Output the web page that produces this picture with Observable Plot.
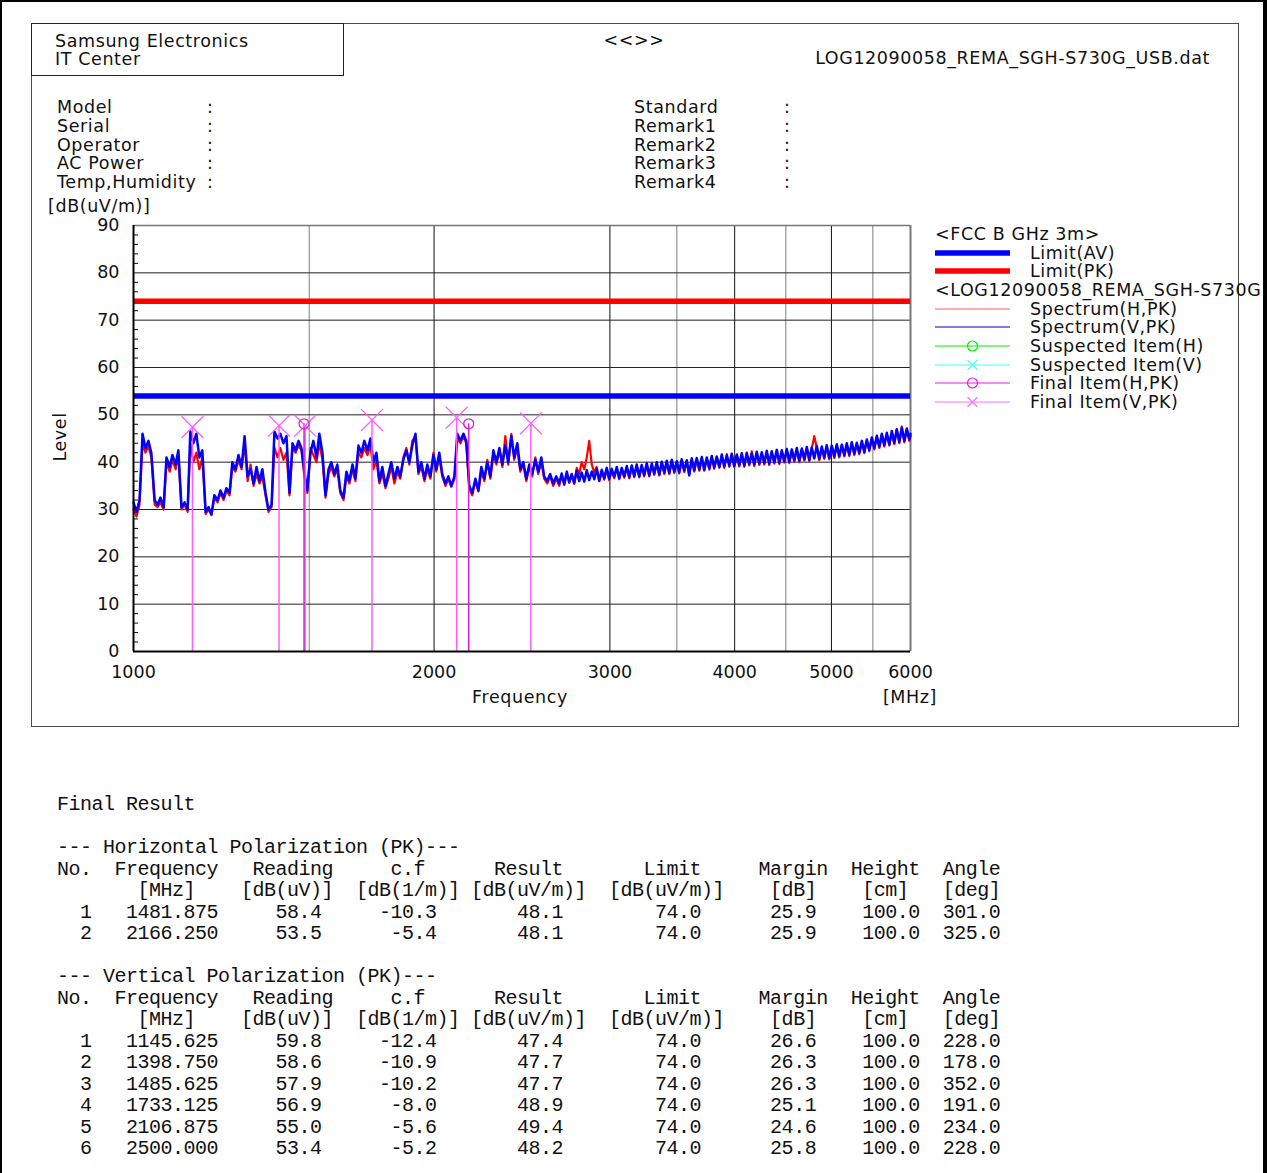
<!DOCTYPE html>
<html>
<head>
<meta charset="utf-8">
<script src="https://cdn.jsdelivr.net/npm/d3@7"></script>
<script src="https://cdn.jsdelivr.net/npm/@observablehq/plot@0.6"></script>
<style>
  html,body{margin:0;padding:0;background:#fff;}
  #page{position:relative;width:1270px;height:1173px;overflow:hidden;background:#fff;
        font-family:"DejaVu Sans",sans-serif;font-size:17.5px;color:#111;}
  .t{position:absolute;white-space:nowrap;line-height:20px;height:20px;letter-spacing:0.6px;}
  #chart{position:absolute;left:0;top:0;}
  #tbl{position:absolute;left:57px;top:794px;margin:0;font-family:"Liberation Mono",monospace;
       font-size:20px;letter-spacing:-0.5px;line-height:21.5px;color:#111;}
  .box{position:absolute;box-sizing:border-box;}
  .sw{position:absolute;}
</style>
</head>
<body>
<div id="page">
  <div id="chart"></div>
  <div class="box" style="left:31px;top:23px;width:1208px;height:704px;border:1px solid #4a4a4a;"></div>
  <div class="box" style="left:31px;top:23px;width:313px;height:53px;border:1px solid #222;"></div>
  <pre id="tbl"></pre>
  <div class="box" style="left:0;top:0;width:1267px;height:1200px;border-left:2px solid #000;border-top:2px solid #000;border-right:4px solid #000;z-index:5;"></div>
</div>
<script>
// ---------------- DATA ----------------
const fileName = "LOG12090058_REMA_SGH-S730G_USB.dat";
const infoLeft = ["Model", "Serial", "Operator", "AC Power", "Temp,Humidity"];
const infoRight = ["Standard", "Remark1", "Remark2", "Remark3", "Remark4"];

const yMajor = [0, 10, 20, 30, 40, 50, 60, 70, 80, 90];
const yMinor = [2,4,6,8,12,14,16,18,22,24,26,28,32,34,36,38,42,44,46,48,52,54,56,58,62,64,66,68,72,74,76,78,82,84,86,88];
const xTicks = [1000, 2000, 3000, 4000, 5000, 6000];
const xGridMajor = [2000, 3000, 4000, 5000];
const xGridMinor = [1500, 3500, 4500, 5500];
const limitAV = 54;
const limitPK = 74;

// Spectrum sample frequencies [MHz]
const specF = [1000,1007,1014,1021,1028,1035,1042,1050,1057,1064,
1072,1079,1087,1094,1102,1109,1117,1125,1133,1140,
1148,1156,1164,1172,1181,1189,1197,1205,1214,1222,
1231,1239,1248,1256,1265,1274,1283,1292,1301,1310,
1319,1328,1337,1346,1356,1365,1375,1384,1394,1403,
1413,1423,1433,1443,1453,1463,1473,1483,1493,1504,
1514,1525,1535,1546,1557,1568,1578,1589,1600,1611,
1623,1634,1645,1657,1668,1680,1691,1703,1715,1727,
1739,1751,1763,1775,1788,1800,1812,1825,1838,1850,
1863,1876,1889,1902,1916,1929,1942,1956,1969,1983,
1997,2010,2024,2038,2053,2067,2081,2096,2110,2125,
2140,2154,2169,2184,2200,2215,2230,2246,2261,2277,
2293,2309,2325,2341,2357,2373,2390,2406,2423,2440,
2457,2474,2491,2508,2526,2543,2561,2578,2596,2614,
2632,2651,2669,
2684,2700,2716,2731,2747,2763,2779,2795,2811,2828,
2844,2860,2877,2894,2910,2927,2944,2961,2978,2995,
3012,3030,3048,3065,3083,3101,3119,3137,3155,3173,
3191,3210,3228,3247,3266,3285,3304,3323,3342,3362,
3381,3401,3420,3440,3460,3480,3500,3520,3540,3561,
3582,3602,3623,3644,3665,3687,3708,3729,3751,3773,
3794,3816,3838,3861,3883,3905,3928,3951,3973,3996,
4020,4043,4066,4090,4113,4137,4161,4185,4209,4234,
4258,4283,4307,4332,4357,4383,4408,4434,4459,4485,
4511,4537,4563,4590,4616,4643,4670,4697,4724,4751,
4778,4806,4834,4862,4890,4918,4946,4975,5004,5033,
5062,5091,5121,5151,5180,5210,5240,5271,5301,5332,
5363,5394,5425,5456,5488,5520,5552,5584,5616,5648,
5681,5714,5747,5780,5813,5847,5881,5915,5949,5984,6000];

// Spectrum(V,PK) level [dB(uV/m)]
const levelV = [31.5,29.5,32,46,43,44.5,42,32,31,32.5,
30.5,41,39,41.5,39.5,42.5,30.5,31.5,30,46.5,
44,46,41,42.5,29.5,30.5,29,33,32,34,
32.5,34.5,33.5,40,38.5,41.5,39,45.5,37,38.5,
35.5,39,36,38.5,33.5,30,31,46.5,45,46,
44,45.5,33.5,44,42.5,44.5,43,38,34,42,
44.5,41,46,42,33,38.5,40,37.5,39.5,34,
32.5,38,36,39.5,36.5,43.5,42,44.5,42.5,45,
40,42,36,39,35,37.5,40,36.5,39,37,
40.5,42.5,40,43.5,46,38,40,36.5,39.5,37,
41.5,38.5,42,37.5,35.5,37,35,37,46,44.5,
46,44.5,35,33.5,36.5,34,39,36.5,40,37,
42.5,40,43,39.5,43.5,40,45.5,41,44,38.5,
40,36.5,39.5,37.5,40.5,38,41,37,36,37.5,
35.5,37,35.5,
37.6,35.4,38,35.8,37.5,35.6,38.2,36,37.8,35.9,
38.3,36.2,38,36.4,38.6,36.1,38.4,36.6,38.8,36.5,
38.6,36.9,39,36.6,38.8,37,39.2,36.8,39.3,37.1,
39.5,37,39.4,37.3,39.8,37.2,39.7,37.6,40,37.4,
40.1,37.8,40.3,37.7,40.5,38,40.2,37.9,40.6,38.2,
40.4,37.2,40.8,38.3,40.9,38.5,41.1,38.4,41,38.7,
41.3,38.9,41.2,39,41.6,39.1,41.4,39.3,41.8,39.2,
41.6,39.4,41.9,39.3,42,39.6,41.8,39.5,42.2,39.7,
42.1,39.8,42.4,39.7,42.3,40,42.6,39.9,42.5,40.2,
42.8,40.1,42.7,40.4,43,40.3,42.9,40.6,43.2,40.5,
43.1,40.8,43.4,40.7,43.3,41,43.6,40.9,43.5,41.2,
43.8,41.3,43.7,41.5,44,41.6,44.2,41.8,44.1,42,
44.5,42.2,44.8,42.6,45.2,43,45.6,43.3,46,43.6,
46.2,43.8,46.6,44.1,46.9,44.3,47.3,44.5,47.1,44.8,46];

// Spectrum(H,PK) level [dB(uV/m)]
const levelH = [30,28.5,31,44,42,43.5,41,31,30.5,31.5,
30,40,38,40.5,38.5,41.5,30,31,29.5,44,
40,42,38.5,41,29,30,28.8,32.5,31.5,33.5,
32,34,33,39,38,40.5,38.5,44,36,39.5,
35,37.5,35.5,37,33,29.5,30.5,43,41,43,
40.5,42,33,43,42,43.5,42.5,37,33.5,43,
41.5,40,44,40.5,32.5,37.5,39,37,38.5,33.5,
32,37,35.5,38.5,36,42,41,43,41.5,43.5,
38.5,40.5,35.5,37.5,34.5,36.5,39,35.5,38,36.5,
41,43,39.5,44.5,45.5,37.5,39,36,38.5,36.5,
42,38,41,37,35,36.5,34.8,36.5,45,44,
45.5,44,34.5,33,36,33.8,38,36,40.5,36.5,
41.5,39.5,42.5,39,45.5,39.5,46,40.5,43,38,
39.5,36,39,37,41,37.5,40,36.5,35.5,37,
35,36.5,35,
37.2,35.2,37.6,35.6,37.2,35.4,38.8,37.5,40,38.5,
41,44.5,39.5,37.8,39,36,38,36.3,38.5,36.2,
38.3,36.6,38.7,36.4,38.5,36.7,38.9,36.6,39,36.8,
39.2,36.8,39.1,37,39.5,37,39.4,37.3,39.7,37.2,
39.8,37.5,40,37.5,40.2,37.7,40,37.6,40.3,37.9,
40.2,37.4,40.5,38,40.6,38.2,40.8,38.2,40.7,38.4,
41,38.6,41,38.8,41.3,38.8,41.7,39,41.5,39,
41.3,39.1,41.6,39,41.7,39.3,42.3,39.2,42,39.4,
41.8,39.5,42.1,39.4,42,39.7,42.3,39.6,42.2,39.9,
42.5,39.8,42.4,40.1,42.7,40,42.6,40.3,42.9,40.2,
42.8,45.5,43.1,40.4,43,40.7,43.3,40.6,43.2,40.9,
43.5,41,43.4,41.2,43.7,41.3,43.9,41.5,43.8,41.7,
44.2,41.9,44.5,42.3,44.9,42.7,45.3,43,45.7,43.3,
45.9,43.5,46.3,43.8,47,44,47.5,44.2,46.8,44.5,45.5];

// Final Result - Horizontal
const hNo = [1, 2];
const hFreq = [1481.875, 2166.250];
const hReading = [58.4, 53.5];
const hCf = [-10.3, -5.4];
const hResult = [48.1, 48.1];
const hLimit = [74.0, 74.0];
const hMargin = [25.9, 25.9];
const hHeight = [100.0, 100.0];
const hAngle = [301.0, 325.0];

// Final Result - Vertical
const vNo = [1, 2, 3, 4, 5, 6];
const vFreq = [1145.625, 1398.750, 1485.625, 1733.125, 2106.875, 2500.000];
const vReading = [59.8, 58.6, 57.9, 56.9, 55.0, 53.4];
const vCf = [-12.4, -10.9, -10.2, -8.0, -5.6, -5.2];
const vResult = [47.4, 47.7, 47.7, 48.9, 49.4, 48.2];
const vLimit = [74.0, 74.0, 74.0, 74.0, 74.0, 74.0];
const vMargin = [26.6, 26.3, 26.3, 25.1, 24.6, 25.8];
const vHeight = [100.0, 100.0, 100.0, 100.0, 100.0, 100.0];
const vAngle = [228.0, 178.0, 352.0, 191.0, 234.0, 228.0];

const legendRows = [
  {label: "<FCC B GHz 3m>", header: true},
  {label: "Limit(AV)", color: "#0000ff", w: 5.5},
  {label: "Limit(PK)", color: "#ff0000", w: 5.5},
  {label: "<LOG12090058_REMA_SGH-S730G", header: true},
  {label: "Spectrum(H,PK)", color: "#ff5a5a", w: 1.2},
  {label: "Spectrum(V,PK)", color: "#0000c8", w: 1.2},
  {label: "Suspected Item(H)", color: "#00ee00", w: 1.2, sym: "circle"},
  {label: "Suspected Item(V)", color: "#44ffff", w: 1.2, sym: "times"},
  {label: "Final Item(H,PK)", color: "#e020e0", w: 1.2, sym: "circle"},
  {label: "Final Item(V,PK)", color: "#ff70ff", w: 1.2, sym: "times"}
];

// ---------------- CHART ----------------
const specH = specF.map((f, i) => ({f, v: levelH[i]}));
const specV = specF.map((f, i) => ({f, v: levelV[i]}));
const finalH = hFreq.map((f, i) => ({f, r: hResult[i]}));
const finalV = vFreq.map((f, i) => ({f, r: vResult[i]}));

const colH = "#d81ed8", colV = "#ff5cff";

const chart = Plot.plot({
  width: 1270, height: 700,
  marginLeft: 133, marginRight: 360, marginTop: 225, marginBottom: 49,
  x: {type: "log", domain: [1000, 6000]},
  y: {domain: [0, 90]},
  style: {fontFamily: "DejaVu Sans", fontSize: "17.5px", color: "#111", background: "transparent"},
  marks: [
    Plot.ruleX(xGridMinor, {stroke: "#a8a8a8", strokeWidth: 1.5}),
    Plot.ruleX(xGridMajor, {stroke: "#111", strokeWidth: 1}),
    Plot.ruleY(yMajor.filter(v => v > 0 && v < 90), {stroke: "#222", strokeWidth: 1}),
    Plot.ruleY([90], {stroke: "#777", strokeWidth: 1.5}),
    Plot.ruleX([6000], {stroke: "#777", strokeWidth: 2}),
    Plot.tickY(yMinor, {y: d => d, stroke: "#111", insetRight: 772}),
    Plot.ruleY([limitPK], {stroke: "#ff0000", strokeWidth: 5.5}),
    Plot.ruleY([limitAV], {stroke: "#0000ff", strokeWidth: 5.5}),
    Plot.line(specH, {x: "f", y: "v", stroke: "#ff0000", strokeWidth: 2.2}),
    Plot.line(specV, {x: "f", y: "v", stroke: "#0000ff", strokeWidth: 2.5}),
    Plot.ruleX(finalV, {x: "f", y1: 0, y2: "r", stroke: colV, strokeWidth: 1.5}),
    Plot.ruleX(finalH, {x: "f", y1: 0, y2: "r", stroke: colH, strokeWidth: 1.5}),
    Plot.dot(finalV, {x: "f", y: "r", symbol: "times", r: 10, stroke: colV, strokeWidth: 1.3}),
    Plot.dot(finalH, {x: "f", y: "r", symbol: "circle", r: 5, stroke: colH, fill: "none", strokeWidth: 1.3}),
    Plot.ruleX([1000], {stroke: "#000", strokeWidth: 2}),
    Plot.ruleY([0], {stroke: "#000", strokeWidth: 2}),
    Plot.axisY(yMajor, {tickSize: 0, tickPadding: 14, label: null}),
    Plot.axisX(xTicks, {tickSize: 0, tickPadding: 14, label: null, tickFormat: d => String(d)})
  ]
});
document.getElementById("chart").appendChild(chart);

// ---------------- TEXTS ----------------
const page = document.getElementById("page");
function addText(txt, x, yc, anchor) {
  const d = document.createElement("div");
  d.className = "t";
  d.textContent = txt;
  d.style.top = (yc - 10) + "px";
  if (anchor === "end") { d.style.right = (1270 - x) + "px"; }
  else { d.style.left = x + "px"; }
  if (anchor === "middle") d.style.transform = "translateX(-50%)";
  page.appendChild(d);
  return d;
}
addText("Samsung Electronics", 55, 41);
addText("IT Center", 55, 59);
addText("<<>>", 634, 40, "middle");
addText(fileName, 1210, 58, "end");
infoLeft.forEach((s, i) => { addText(s, 57, 107 + i * 18.75); addText(":", 207, 107 + i * 18.75); });
infoRight.forEach((s, i) => { addText(s, 634, 107 + i * 18.75); addText(":", 784, 107 + i * 18.75); });
addText("[dB(uV/m)]", 48, 206);
const lv = addText("Level", 60, 437, "middle");
lv.style.transform = "translateX(-50%) rotate(-90deg)";
addText("Frequency", 520, 697, "middle");
addText("[MHz]", 910, 697, "middle");

// legend
legendRows.forEach((row, i) => {
  const yc = 234 + i * 18.67;
  if (row.header) {
    const d = addText(row.label, 935, yc);
    d.style.zIndex = 2;
    return;
  }
  addText(row.label, 1030, yc);
  const ns = "http://www.w3.org/2000/svg";
  const svg = document.createElementNS(ns, "svg");
  svg.setAttribute("width", 80); svg.setAttribute("height", 16);
  svg.setAttribute("class", "sw");
  svg.style.left = "935px"; svg.style.top = (yc - 8) + "px";
  const ln = document.createElementNS(ns, "line");
  ln.setAttribute("x1", 0); ln.setAttribute("x2", 75); ln.setAttribute("y1", 8); ln.setAttribute("y2", 8);
  ln.setAttribute("stroke", row.color); ln.setAttribute("stroke-width", row.w);
  svg.appendChild(ln);
  if (row.sym === "circle") {
    const c = document.createElementNS(ns, "circle");
    c.setAttribute("cx", 37.5); c.setAttribute("cy", 8); c.setAttribute("r", 5);
    c.setAttribute("fill", "none"); c.setAttribute("stroke", row.color); c.setAttribute("stroke-width", 1.2);
    svg.appendChild(c);
  } else if (row.sym === "times") {
    const p = document.createElementNS(ns, "path");
    p.setAttribute("d", "M32.5,3L42.5,13M32.5,13L42.5,3");
    p.setAttribute("stroke", row.color); p.setAttribute("stroke-width", 1.2);
    svg.appendChild(p);
  }
  page.appendChild(svg);
});

// ---------------- TABLE ----------------
function place(items) { let s = ""; for (const [c, t] of items) s = s.padEnd(c) + t; return s; }
const hdr1 = place([[0, "No."], [5, "Frequency"], [17, "Reading"], [29, "c.f"], [38, "Result"], [51, "Limit"], [61, "Margin"], [69, "Height"], [77, "Angle"]]);
const hdr2 = place([[7, "[MHz]"], [16, "[dB(uV)]"], [26, "[dB(1/m)]"], [36, "[dB(uV/m)]"], [48, "[dB(uV/m)]"], [62, "[dB]"], [70, "[cm]"], [77, "[deg]"]]);
function row(n, f, rd, cf, res, lim, mar, ht, ang) {
  return String(n).padStart(3) + f.toFixed(3).padStart(11) + rd.toFixed(1).padStart(9) +
    cf.toFixed(1).padStart(10) + res.toFixed(1).padStart(11) + lim.toFixed(1).padStart(12) +
    mar.toFixed(1).padStart(10) + ht.toFixed(1).padStart(9) + ang.toFixed(1).padStart(7);
}
const lines = ["Final Result", "", "--- Horizontal Polarization (PK)---", hdr1, hdr2];
hNo.forEach((n, i) => lines.push(row(n, hFreq[i], hReading[i], hCf[i], hResult[i], hLimit[i], hMargin[i], hHeight[i], hAngle[i])));
lines.push("", "--- Vertical Polarization (PK)---", hdr1, hdr2);
vNo.forEach((n, i) => lines.push(row(n, vFreq[i], vReading[i], vCf[i], vResult[i], vLimit[i], vMargin[i], vHeight[i], vAngle[i])));
document.getElementById("tbl").textContent = lines.join("\n");
</script>
</body>
</html>
